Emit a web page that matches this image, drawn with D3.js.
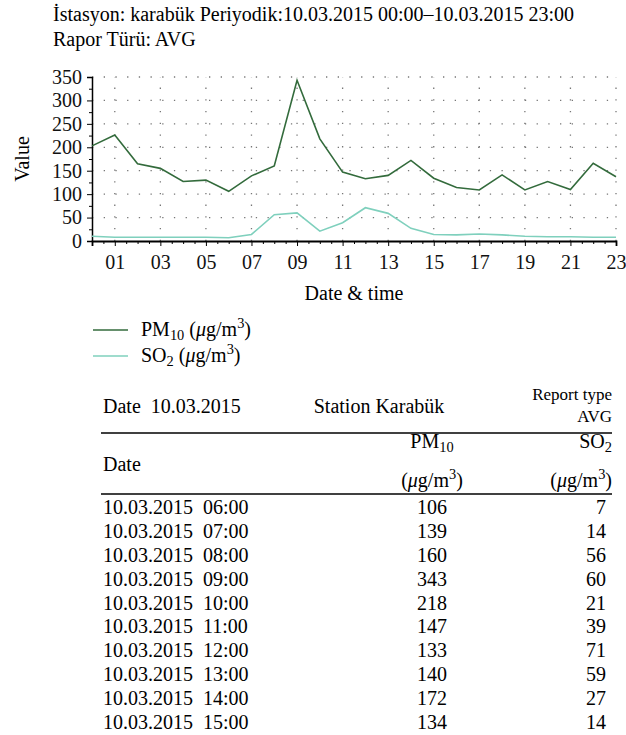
<!DOCTYPE html>
<html>
<head>
<meta charset="utf-8">
<script src="https://cdn.jsdelivr.net/npm/d3@7"></script>
<style>
  html, body { margin: 0; padding: 0; background: #fff; }
  svg { display: block; font-family: "Liberation Serif", "DejaVu Serif", serif; }
</style>
</head>
<body>
<svg id="chart" width="626" height="735"></svg>
<script>
// ---- data ----
const hours = [0,1,2,3,4,5,6,7,8,9,10,11,12,13,14,15,16,17,18,19,20,21,22,23];
const pm10 = [203,226,165,155,127,130,106,139,160,343,218,147,133,140,172,134,114,109,141,109,127,110,166,137];
const so2  = [10,8,8,8,8,8,7,14,56,60,21,39,71,59,27,14,13,15,13,10,9,9,8,8];
const xTickLabels = ["01","03","05","07","09","11","13","15","17","19","21","23"];
const yTicks = [0,50,100,150,200,250,300,350];
const tableHours = ["06:00","07:00","08:00","09:00","10:00","11:00","12:00","13:00","14:00","15:00"];
const tableDate = "10.03.2015";
const titleLine1 = "İstasyon: karabük Periyodik:10.03.2015 00:00–10.03.2015 23:00";
const titleLine2 = "Rapor Türü: AVG";

const cPM = "#336b3c", cSO = "#7fd0bd";
const svg = d3.select("#chart");
const FS = 20;

// title
svg.append("text").attr("x", 53).attr("y", 21).attr("font-size", FS).text(titleLine1);
svg.append("text").attr("x", 53).attr("y", 46).attr("font-size", FS).text(titleLine2);

// scales
const x = d3.scaleLinear().domain([0, 23]).range([92, 616]);
const y = d3.scaleLinear().domain([0, 350]).range([241, 77]);

// grid
const g = svg.append("g");
g.selectAll("line.h").data(yTicks.filter(d => d > 0)).join("line")
  .attr("x1", x(0)).attr("x2", x(23)).attr("y1", d => y(d)).attr("y2", d => y(d))
  .attr("stroke", "#777").attr("stroke-width", 1.3).attr("stroke-dasharray", "1.3,10.4");
g.selectAll("line.v").data(xTickLabels.map(Number)).join("line")
  .attr("x1", d => x(d)).attr("x2", d => x(d)).attr("y1", y(0)).attr("y2", y(350))
  .attr("stroke", "#777").attr("stroke-width", 1.3).attr("stroke-dasharray", "1.3,10.4");

// y axis
const yAxis = svg.append("g").attr("transform", `translate(${x(0)},0)`)
  .call(d3.axisLeft(y).tickValues(yTicks).tickSize(5).tickPadding(5).tickFormat(d3.format("d")));
yAxis.select(".domain").attr("stroke", "#000").attr("stroke-width", 1.5);
yAxis.selectAll("text").attr("font-size", FS).attr("font-family", "Liberation Serif").attr("fill", "#111");
svg.append("g").attr("transform", `translate(${x(0)},0)`)
  .call(d3.axisLeft(y).tickValues(d3.range(25, 350, 50)).tickSize(3).tickFormat(""))
  .select(".domain").remove();

// x axis
const xAxis = svg.append("g").attr("transform", `translate(0,${y(0)})`)
  .call(d3.axisBottom(x).tickValues(xTickLabels.map(Number)).tickSize(5).tickPadding(9)
    .tickFormat((d, i) => xTickLabels[i]));
xAxis.select(".domain").attr("stroke", "#000").attr("stroke-width", 1.8);
xAxis.selectAll("text").attr("font-size", FS).attr("font-family", "Liberation Serif").attr("fill", "#111");
svg.append("g").attr("transform", `translate(0,${y(0)})`)
  .call(d3.axisBottom(x).tickValues(d3.range(0, 23.01, 0.5).filter(v => !(v % 2 === 1))).tickSize(3).tickFormat(""))
  .select(".domain").remove();

// axis titles
svg.append("text").attr("transform", "translate(29,159) rotate(-90)").attr("text-anchor", "middle")
  .attr("font-size", FS).text("Value");
svg.append("text").attr("x", (x(0) + x(23)) / 2).attr("y", 300).attr("text-anchor", "middle")
  .attr("font-size", FS).text("Date & time");

// lines
const line = d3.line().x((d, i) => x(hours[i])).y(d => y(d));
svg.append("path").datum(so2).attr("d", line).attr("fill", "none").attr("stroke", cSO).attr("stroke-width", 1.6);
svg.append("path").datum(pm10).attr("d", line).attr("fill", "none").attr("stroke", cPM).attr("stroke-width", 1.6);

// label helper: name with subscript + (μg/m3)
function unitLabel(sel, name, sub, withUnit) {
  sel.append("tspan").text(name);
  sel.append("tspan").attr("font-size", FS * 0.72).attr("dy", 4).text(sub);
  if (withUnit) {
    sel.append("tspan").attr("dy", -4).text(" (");
    sel.append("tspan").attr("font-style", "italic").text("μ");
    sel.append("tspan").text("g/m");
    sel.append("tspan").attr("font-size", FS * 0.72).attr("dy", -8).text("3");
    sel.append("tspan").attr("dy", 8).text(")");
  }
}
function unitOnly(sel) {
  sel.append("tspan").text("(");
  sel.append("tspan").attr("font-style", "italic").text("μ");
  sel.append("tspan").text("g/m");
  sel.append("tspan").attr("font-size", FS * 0.72).attr("dy", -8).text("3");
  sel.append("tspan").attr("dy", 8).text(")");
}

// legend
const legend = [{ n: "PM", s: "10", c: cPM }, { n: "SO", s: "2", c: cSO }];
legend.forEach((d, i) => {
  const yy = 330 + i * 26;
  svg.append("line").attr("x1", 93).attr("x2", 128).attr("y1", yy).attr("y2", yy)
    .attr("stroke", d.c).attr("stroke-width", 1.6);
  const t = svg.append("text").attr("x", 141).attr("y", yy + 6).attr("font-size", FS);
  unitLabel(t, d.n, d.s, true);
});

// table
const L = 101, R = 612, CPM = 432;
svg.append("text").attr("x", 103).attr("y", 413).attr("font-size", FS).attr("xml:space", "preserve")
  .text("Date  " + tableDate);
svg.append("text").attr("x", 379).attr("y", 413).attr("text-anchor", "middle").attr("font-size", FS).text("Station Karabük");
svg.append("text").attr("x", R).attr("y", 400).attr("text-anchor", "end").attr("font-size", 17).text("Report type");
svg.append("text").attr("x", R).attr("y", 422).attr("text-anchor", "end").attr("font-size", 17).text("AVG");
svg.append("line").attr("x1", L).attr("x2", R).attr("y1", 433).attr("y2", 433).attr("stroke", "#000").attr("stroke-width", 1.5);

const h1 = svg.append("text").attr("x", CPM).attr("y", 448).attr("text-anchor", "middle").attr("font-size", FS);
unitLabel(h1, "PM", "10", false);
const h2 = svg.append("text").attr("x", R).attr("y", 448).attr("text-anchor", "end").attr("font-size", FS);
unitLabel(h2, "SO", "2", false);
svg.append("text").attr("x", 103).attr("y", 471).attr("font-size", FS).text("Date");
const u1 = svg.append("text").attr("x", CPM).attr("y", 487).attr("text-anchor", "middle").attr("font-size", FS);
unitOnly(u1);
const u2 = svg.append("text").attr("x", R).attr("y", 487).attr("text-anchor", "end").attr("font-size", FS);
unitOnly(u2);
svg.append("line").attr("x1", L).attr("x2", R).attr("y1", 494).attr("y2", 494).attr("stroke", "#000").attr("stroke-width", 1.5);

const rowY = d3.scaleLinear().domain([0, 9]).range([514, 729]);
tableHours.forEach((h, i) => {
  const idx = hours.indexOf(+h.slice(0, 2));
  svg.append("text").attr("x", 103).attr("y", rowY(i)).attr("font-size", FS).attr("xml:space", "preserve")
    .text(tableDate + "  " + h);
  svg.append("text").attr("x", CPM).attr("y", rowY(i)).attr("text-anchor", "middle").attr("font-size", FS).text(pm10[idx]);
  svg.append("text").attr("x", 606).attr("y", rowY(i)).attr("text-anchor", "end").attr("font-size", FS).text(so2[idx]);
});
</script>
</body>
</html>
